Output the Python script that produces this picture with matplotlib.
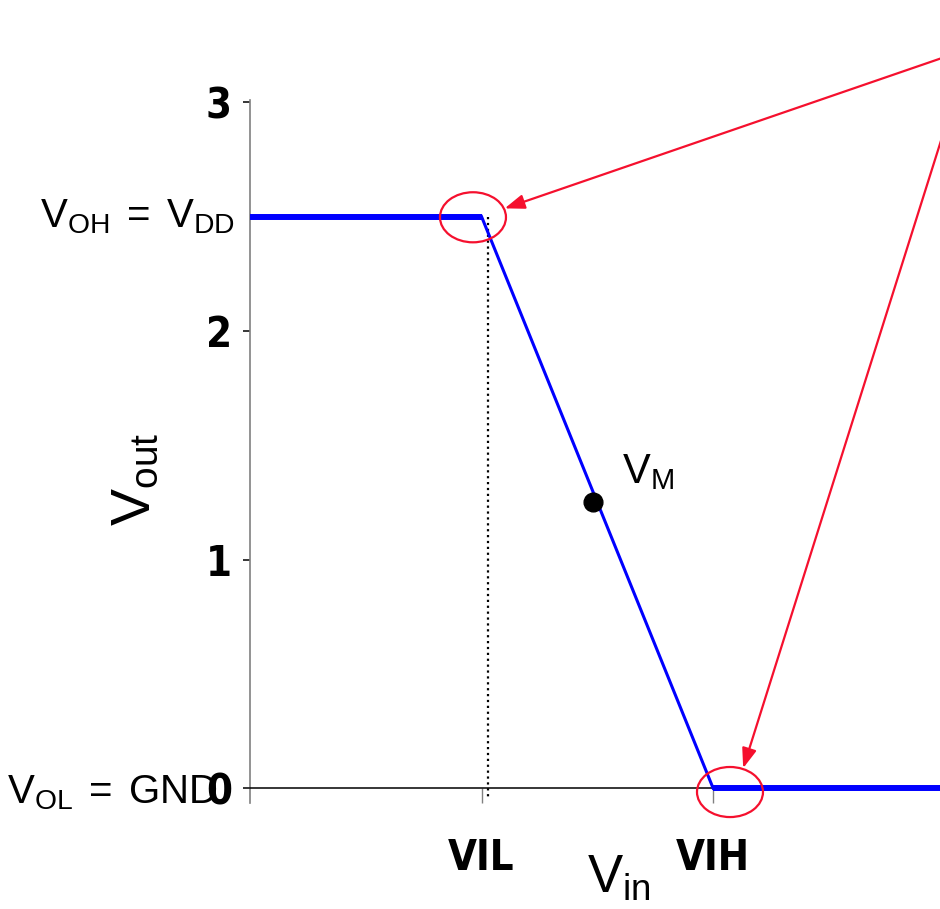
import matplotlib
matplotlib.use("Agg")
import matplotlib.pyplot as plt
from matplotlib import font_manager
from matplotlib.patches import Ellipse

# transfer curve of the inverter (piecewise linear)
vin = [0.0, 1.0, 2.0, 3.0]
vout = [2.5, 2.5, 0.0, 0.0]
VIL, VIH = 1.0, 2.0
VOH, VOL = 2.5, 0.0
VM = (1.48, 1.25)
yticks = [0, 1, 2, 3]
xtick_labels = ["VIL", "VIH"]

plt.rcParams['font.family'] = ['Liberation Sans', 'DejaVu Sans']
plt.rcParams['mathtext.fontset'] = 'custom'
plt.rcParams['mathtext.rm'] = 'Liberation Sans'
plt.rcParams['mathtext.it'] = 'Liberation Sans:italic'
plt.rcParams['mathtext.bf'] = 'Liberation Sans:bold'

# narrow bold face for the tick labels, if one is around
names = {f.name for f in font_manager.fontManager.ttflist}
narrow = [f for f in font_manager.fontManager.ttflist if 'ondensed' in f.fname or 'Narrow' in f.name]
if 'Liberation Sans Narrow' in names:
    tickfont = dict(family='Liberation Sans Narrow', weight='bold', size=31)
elif narrow:
    tickfont = dict(family=narrow[0].name, stretch='condensed', weight='bold', size=30)
else:
    tickfont = dict(family='Liberation Sans', weight='bold', size=25)

red = '#f5102e'

fig = plt.figure(figsize=(9.4, 9.09), dpi=100)
ax = fig.add_axes([250/940, 106/909, 690/940, 703/909])
ax.set_xlim(0, 2.98)
ax.set_ylim(-0.065, 3.01)

# curve: flat parts thick, transition thinner
ax.plot(vin[0:2], vout[0:2], color='#0000ff', lw=4.3, solid_capstyle='butt', zorder=3)
ax.plot(vin[1:3], vout[1:3], color='#0000ff', lw=2.2, zorder=3)
ax.plot(vin[2:4], vout[2:4], color='#0000ff', lw=4.3, solid_capstyle='butt', zorder=3)

ax.plot([VIL + 0.028, VIL + 0.028], [VOH, -0.05], color='black', lw=1.6, ls=':', zorder=2)
ax.plot(*VM, 'o', color='black', ms=13.5, zorder=4)
ax.text(VM[0] + 0.127, VM[1] + 0.084, r'$\mathrm{V_M}$', fontsize=30, ha='left', va='baseline')

# unity gain points
for cx, cy in [(VIL - 0.037, VOH - 0.003), (VIH + 0.073, VOL - 0.017)]:
    ax.add_patch(Ellipse((cx, cy), 0.285, 0.219, fill=False, ec=red, lw=1.6, clip_on=False, zorder=5))
src = (3.11, 3.236)
for tip in [(1.10, 2.536), (2.13, 0.0875)]:
    ax.annotate('', xy=tip, xytext=src, annotation_clip=False,
                arrowprops=dict(arrowstyle='-|>,head_length=0.6,head_width=0.22', color=red,
                                lw=1.6, mutation_scale=20, shrinkA=0, shrinkB=0))

# axes styling
for s in ['top', 'right']:
    ax.spines[s].set_visible(False)
ax.spines['bottom'].set_position(('data', 0))
ax.spines['bottom'].set_linewidth(1.1)
ax.spines['left'].set_color('#808080')
ax.spines['left'].set_linewidth(1.2)

ax.set_yticks(yticks)
ax.set_yticklabels([str(t) for t in yticks], **tickfont)
ax.tick_params(axis='y', direction='out', length=5, width=1.1, color='black', pad=8)
ax.set_xticks([VIL, VIH])
ax.set_xticklabels(xtick_labels, **tickfont)
ax.tick_params(axis='x', direction='out', length=11, width=1.0, color='#808080', pad=24)

ax.text(-0.065, VOH - 0.047, r'$\mathrm{V_{OH}\;=\;V_{DD}}$', fontsize=29, ha='right', va='baseline')
ax.text(-0.138, VOL - 0.066, r'$\mathrm{V_{OL}\;=\;GND}$', fontsize=29, ha='right', va='baseline')
ax.text(-0.432, 1.351, r'$\mathrm{V_{out}}$', fontsize=40, rotation=90, rotation_mode='anchor',
        ha='center', va='baseline')
ax.text(1.594, -0.459, r'$\mathrm{V_{in}}$', fontsize=38, ha='center', va='baseline', clip_on=False)

fig.savefig('out.png', dpi=100)
